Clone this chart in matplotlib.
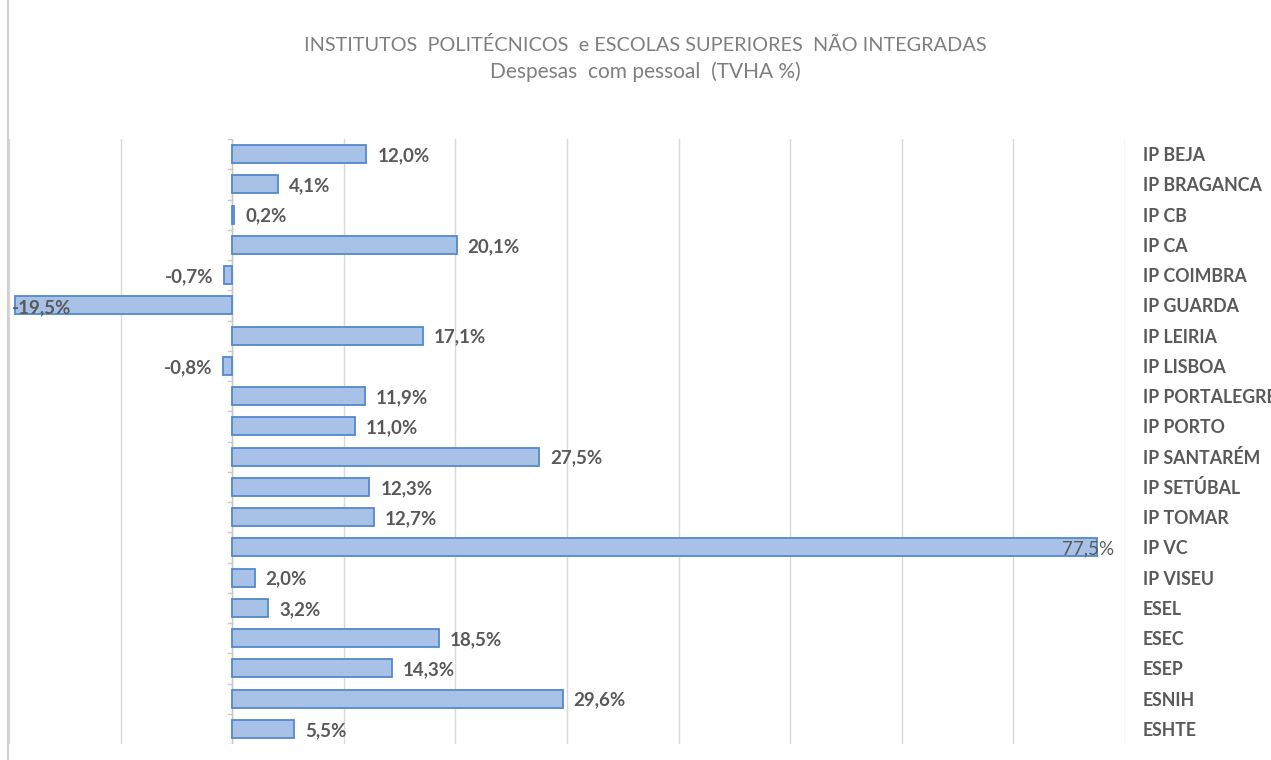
import matplotlib.pyplot as plt
from matplotlib.lines import Line2D

# Dados
categorias = ['IP BEJA', 'IP BRAGANCA', 'IP CB', 'IP CA', 'IP COIMBRA', 'IP GUARDA',
              'IP LEIRIA', 'IP LISBOA', 'IP PORTALEGRE', 'IP PORTO', 'IP SANTARÉM',
              'IP SETÚBAL', 'IP TOMAR', 'IP VC', 'IP VISEU', 'ESEL', 'ESEC', 'ESEP',
              'ESNIH', 'ESHTE']
tvha = [12.0, 4.1, 0.2, 20.1, -0.7, -19.5, 17.1, -0.8, 11.9, 11.0, 27.5,
        12.3, 12.7, 77.5, 2.0, 3.2, 18.5, 14.3, 29.6, 5.5]

cinza = '#595959'
plt.rcParams['font.family'] = ['Lato', 'DejaVu Sans']

fig = plt.figure(figsize=(12.71, 7.6), dpi=100)
ax = fig.add_axes([9 / 1271, 1 - 744 / 760, (1125 - 9) / 1271, (744 - 139) / 760])

y = list(range(len(categorias)))
ax.barh(y, tvha, height=0.6, color='#a7c2e6', edgecolor='#5389cc', linewidth=1.3, zorder=3)

ax.set_xlim(-20, 80)
ax.set_ylim(len(categorias) - 0.5, -0.5)
ax.set_xticks(range(-20, 81, 10))
ax.tick_params(axis='x', bottom=False, labelbottom=False)
ax.grid(axis='x', color='#d9d9d9', linewidth=1, zorder=0)
for s in ax.spines.values():
    s.set_visible(False)

# eixo zero com pequenas marcas
ax.axvline(0, color='#c8c8c8', linewidth=1, zorder=2)
for b in range(len(categorias) + 1):
    ax.plot([-0.4, 0], [b - 0.5, b - 0.5], color='#c8c8c8', linewidth=1, zorder=2)

# rótulos das categorias à direita
ax.yaxis.tick_right()
ax.set_yticks(y)
ax.set_yticklabels(categorias, fontsize=12.8, fontweight='bold', color=cinza)
ax.tick_params(axis='y', length=0, pad=13)

# rótulos dos valores
fs = 13.5
for i, v in enumerate(tvha):
    txt = f'{v:.1f}%'.replace('.', ',')
    if v < -15:
        ax.annotate(txt, (v, i), xytext=(-2, -2), textcoords='offset points', ha='left',
                    va='center', fontsize=fs, fontweight='bold', color=cinza, zorder=4)
    elif v > 70:
        ax.annotate(txt, (v, i), xytext=(12, -1), textcoords='offset points', ha='right',
                    va='center', fontsize=fs, color=cinza, zorder=4)
    elif v < 0:
        ax.annotate(txt, (v, i), xytext=(-8, -1), textcoords='offset points', ha='right',
                    va='center', fontsize=fs, fontweight='bold', color=cinza)
    else:
        ax.annotate(txt, (v, i), xytext=(8, -1), textcoords='offset points', ha='left',
                    va='center', fontsize=fs, fontweight='bold', color=cinza)

fig.text(645 / 1271, 1 - 45 / 760, 'INSTITUTOS  POLITÉCNICOS  e ESCOLAS SUPERIORES  NÃO INTEGRADAS',
         ha='center', va='center', fontsize=14.3, color='#7f7f7f')
fig.text(645 / 1271, 1 - 72 / 760, 'Despesas  com pessoal  (TVHA %)',
         ha='center', va='center', fontsize=15, color='#7f7f7f')

# borda esquerda do gráfico
fig.add_artist(Line2D([8 / 1271, 8 / 1271], [0, 1], transform=fig.transFigure,
                      color='#d0d0d0', linewidth=1.5))

fig.savefig('out.png', dpi=100, facecolor='white')
